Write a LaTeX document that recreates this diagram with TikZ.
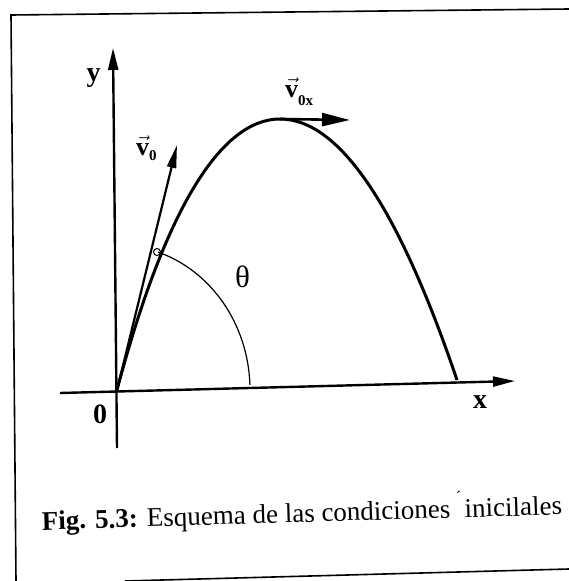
\documentclass[tikz,border=0pt]{standalone}
\usepackage{fontspec}
\setmainfont{Liberation Serif}
\usetikzlibrary{arrows.meta}
\begin{document}
\begin{tikzpicture}[x=1pt,y=-1pt,
  axis/.style={line width=2.4pt,-{Triangle[length=22pt,width=10pt]}},
  vecarrow/.style={line width=2.2pt,-{Triangle[length=23pt,width=9pt]}},
  vxarrow/.style={line width=2.6pt,-{Triangle[length=28pt,width=13pt]}},
  traj/.style={line width=3pt},
  frame/.style={line width=1.6pt},
  lbl/.style={inner sep=0pt,font=\fontsize{28}{28}\selectfont\bfseries},
  veclbl/.style={inner sep=0pt,anchor=base west}]
\useasboundingbox (0,0) rectangle (569,581);
% frame
\coordinate (ftl) at (11,15);
\coordinate (ftr) at (569,9);
\coordinate (fbl) at (16,581);
\coordinate (bbl) at (125,581);
\coordinate (bbr) at (569,569);
\draw[frame] (ftr) -- (ftl) -- (fbl);
\draw[frame] (bbl) -- (bbr);
% axes
\coordinate (O) at (117,390);
\coordinate (xs) at (60,393);
\coordinate (xe) at (515,381);
\coordinate (ys) at (117,448);
\coordinate (ye) at (113,48);
\draw[axis] (xs) -- (xe);
\draw[axis] (ys) -- (ye);
% trajectory
\coordinate (peak) at (280,119);
\coordinate (land) at (457,380);
\draw[traj] (O) .. controls (165,209) and (221,119) .. (peak)
  .. controls (339,119) and (398,206) .. (land);
% velocity vectors
\coordinate (v0tip) at (177,145);
\draw[vecarrow] (O) -- (v0tip);
\coordinate (vxtip) at (350,120);
\draw[vxarrow] (peak) -- (vxtip);
% angle
\draw[line width=1.2pt] (O) ++(-2:133 and 145) arc[start angle=-2,end angle=-72,x radius=133,y radius=145];
\draw[line width=1pt] (157,252) circle[radius=3.5];
% labels
\node[lbl,anchor=base] (ylab) at (93.5,81) {y};
\node[lbl,anchor=base] (xlab) at (480,408) {x};
\node[lbl,anchor=base] (zlab) at (100,423) {0};
\node[inner sep=0pt,font=\fontsize{31}{31}\selectfont] (th) at (242.5,276.5) {θ};
\node[veclbl] (v0lab) at (136,155) {{\fontsize{26}{26}\selectfont\bfseries$\vec{\mbox{v}}$}\raisebox{-5pt}{\fontsize{15}{15}\selectfont\bfseries 0}};
\node[veclbl] (vxlab) at (285,97) {{\fontsize{26}{26}\selectfont\bfseries$\vec{\mbox{v}}$}\raisebox{-8pt}{\fontsize{15}{15}\selectfont\bfseries 0x}};
% caption
\node[inner sep=0pt,anchor=base west,rotate=1.7,font=\fontsize{27}{27}\selectfont] (cap) at (42,530)
  {\textbf{Fig. 5.3:} Esquema de las condiciones\hspace{6pt}\raisebox{15pt}{\fontsize{16}{16}\selectfont ´}\hspace{3pt}inicilales};
\end{tikzpicture}
\end{document}
